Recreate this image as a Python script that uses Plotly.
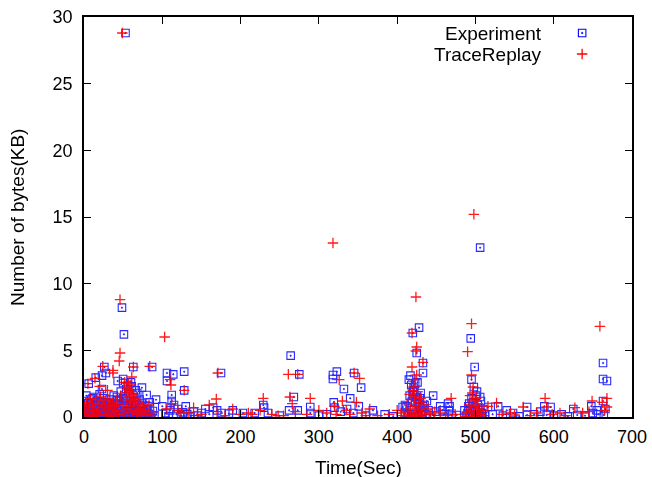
import plotly.graph_objects as go

# ---------------- data ----------------
# Experiment (blue squares): time in seconds, bytes in KB
exp_t_early = [53, 48.5, 51, 6, 15, 23, 26, 28, 50, 50, 63, 87, 23, 74, 80, 92, 43, 60, 56, 66,
               0, 0, 0, 0, 1, 2, 3, 4, 5, 6, 7, 8, 9, 10, 11, 12, 13, 14, 15, 16, 17, 18, 19, 20,
               21, 22, 23, 24, 25, 26, 27, 28, 29, 30, 31, 32, 33, 34, 35, 36, 37, 38, 39, 40,
               41, 42, 43, 44, 45, 46, 47, 48, 49, 50, 51, 52, 53, 54, 55, 56, 57, 58, 59, 60,
               61, 62, 63, 64, 65, 66, 67, 68, 69, 70, 71, 72, 73, 74, 75, 76, 77, 78, 80, 82,
               84, 86, 88, 90, 2, 9, 17, 27, 36, 44, 52, 58, 64, 70, 79, 85]
exp_v_early = [28.8, 8.2, 6.2, 2.5, 2.95, 3.1, 3.75, 3.3, 2.85, 2.55, 3.75, 3.75, 2.1, 2.2, 1.65, 1.3, 2.7, 2.6, 2.4, 2.0,
               0.2, 0.5, 0.9, 1.2, 0.1, 0.35, 0.7, 0.15, 1.0, 0.4, 0.05, 0.6, 1.3, 0.25, 0.8, 0.1, 1.5, 0.45, 0.9, 0.2, 1.2, 0.05, 0.65, 1.7,
               0.3, 1.0, 0.1, 0.5, 1.4, 0.2, 0.8, 0.05, 1.1, 0.4, 0.15, 0.7, 1.3, 0.25, 0.9, 0.05, 0.55, 1.6, 0.3, 1.0,
               0.1, 0.6, 1.25, 0.2, 0.85, 0.45, 1.9, 0.1, 0.7, 1.4, 0.3, 1.0, 0.05, 2.1, 0.5, 1.2, 0.2, 1.7, 0.8, 0.1,
               2.3, 0.6, 1.5, 0.3, 1.1, 0.05, 0.9, 1.8, 0.4, 0.2, 1.3, 0.7, 0.1, 1.0, 0.5, 0.2, 0.85, 0.05, 0.6, 0.3,
               1.1, 0.15, 0.45, 0.1, 0.0, 0.0, 0.0, 0.0, 0.0, 0.0, 0.0, 0.0, 0.0, 0.0, 0.0, 0.0]
exp_t_early2 = [1, 3, 5, 8, 11, 14, 18, 21, 24, 29, 32, 35, 38, 42, 45, 48, 54, 57, 61, 65, 68, 72,
                76, 81, 4, 12, 19, 26, 33, 40, 47, 55, 62, 69, 77, 83, 7, 16, 25, 34, 46, 59, 67, 73]
exp_v_early2 = [0.6, 1.6, 0.3, 1.0, 1.4, 0.7, 0.4, 1.1, 0.9, 0.6, 1.0, 0.5, 0.9, 1.5, 1.2, 0.4, 1.3, 0.9,
                1.0, 0.6, 1.2, 0.5, 0.4, 0.8, 0.0, 0.0, 0.0, 0.0, 0.0, 0.0, 0.0, 0.0, 0.0, 0.0, 0.0, 0.0,
                0.35, 0.55, 0.6, 0.45, 0.3, 0.5, 0.35, 0.4]
exp_t_mid = [106, 106, 114, 128, 128, 112, 112, 100, 104, 108, 110, 115, 118, 120, 124, 126, 130, 132,
             136, 140, 145, 150, 155, 160, 165, 170, 175, 176, 185, 190, 203, 218, 229, 230, 235, 264,
             268, 262, 273, 275, 289, 289, 318, 318, 323, 319, 320, 332, 340, 345, 354, 351, 344, 369,
             384, 407, 250, 300, 310, 328, 336, 360, 395]
exp_v_mid = [3.3, 2.7, 3.2, 3.4, 2.0, 1.65, 1.2, 0.8, 0.3, 0.05, 0.5, 0.9, 0.2, 0.6, 0.1, 0.35, 0.8, 0.2,
             0.05, 0.4, 0.1, 0.3, 0.6, 0.2, 0.7, 0.5, 3.3, 0.3, 0.25, 0.5, 0.3, 0.3, 0.9, 0.7, 0.3, 4.6,
             1.5, 0.5, 0.5, 3.2, 0.75, 0.3, 3.15, 2.85, 3.4, 1.1, 0.7, 2.1, 1.4, 3.3, 2.2, 0.8, 0.3, 0.5,
             0.2, 0.75, 0.1, 0.1, 0.2, 0.4, 0.6, 0.1, 0.05]
exp_t_420 = [428, 420, 425, 433, 433, 446, 415, 418, 422, 426, 430, 424, 419, 428, 435, 440, 410, 412,
             414, 416, 418, 420, 421, 423, 425, 427, 429, 431, 433, 436, 438, 442, 450, 455, 460, 465,
             466, 470, 420, 410, 458, 467, 476, 417, 421, 423, 426, 429, 432, 419, 422, 424]
exp_v_420 = [6.7, 6.3, 4.8, 4.05, 3.3, 1.6, 2.8, 2.4, 2.0, 2.6, 1.8, 1.5, 1.2, 1.0, 0.9, 0.5, 0.3, 0.8,
             0.1, 1.6, 0.5, 1.9, 0.2, 1.1, 0.6, 0.05, 1.4, 0.4, 0.8, 0.2, 1.2, 0.1, 0.4, 0.8, 0.2, 1.0,
             0.5, 0.1, 1.65, 0.9, 0.5, 0.8, 0.15, 3.1, 2.2, 2.5, 1.3, 0.7, 0.3, 0.0, 0.0, 0.0]
exp_t_500 = [494, 499, 495, 498, 506, 502, 506, 490, 492, 493, 495, 496, 497, 499, 500, 501, 503, 504,
             505, 507, 508, 510, 488, 491, 494, 497, 500, 503, 486, 509, 512]
exp_v_500 = [5.9, 3.75, 2.8, 2.25, 1.5, 1.9, 12.7, 0.3, 1.0, 0.6, 1.4, 0.2, 1.1, 0.7, 0.4, 1.6, 0.9, 0.1,
             0.5, 1.2, 0.3, 0.6, 0.1, 0.8, 0.0, 0.0, 0.0, 0.0, 0.5, 0.05, 0.2]
exp_t_late = [516, 529, 540, 566, 566, 588, 596, 591, 610, 625, 648, 650, 663, 663, 668, 663, 664, 657,
              522, 535, 548, 556, 575, 583, 600, 618, 630, 640, 655, 666]
exp_v_late = [0.75, 0.8, 0.5, 0.75, 0.15, 0.8, 0.75, 0.15, 0.2, 0.6, 0.8, 0.3, 4.05, 2.85, 2.7, 1.2, 0.15, 0.2,
              0.2, 0.1, 0.3, 0.05, 0.2, 0.4, 0.1, 0.05, 0.15, 0.1, 0.5, 0.6]

# TraceReplay (red pluses)
tr_t_early = [49, 46, 46, 45, 5, 14, 24, 37, 37, 61, 84, 63, 103, 20, 30, 52, 57, 59, 58, 60, 65,
              0, 1, 2, 3, 4, 6, 7, 8, 10, 11, 12, 13, 15, 16, 18, 19, 21, 22, 23, 25, 26, 27, 29, 31,
              32, 33, 34, 35, 36, 38, 39, 40, 41, 42, 43, 44, 47, 48, 50, 51, 53, 54, 55, 56, 57, 58,
              59, 61, 62, 63, 64, 66, 67, 68, 69, 71, 72, 73, 75, 76, 78, 81, 83, 86, 89, 55, 57, 59, 61]
tr_v_early = [28.8, 8.8, 4.8, 4.2, 2.5, 2.9, 3.8, 3.5, 3.3, 3.0, 3.8, 3.75, 6.0, 2.3, 2.0, 2.6, 2.2, 1.9, 1.6, 2.4, 1.4,
              0.3, 0.6, 0.1, 1.1, 0.4, 0.8, 0.2, 1.4, 0.5, 1.0, 0.05, 0.7, 1.3, 0.3, 0.9, 0.15, 1.5, 0.45, 1.0, 0.2, 0.75, 1.2, 0.1, 0.6,
              1.35, 0.3, 0.9, 0.05, 1.1, 0.4, 0.8, 0.15, 1.3, 0.5, 0.9, 0.2, 1.6, 0.4, 1.0, 0.25, 1.8, 0.6, 1.3, 0.1, 2.0, 0.8,
              1.5, 0.3, 1.7, 1.1, 0.5, 1.2, 0.2, 0.9, 0.4, 1.0, 0.6, 0.1, 0.8, 0.3, 0.5, 0.2, 0.9, 0.1, 0.4, 2.1, 2.5, 1.2, 1.9]
tr_t_mid = [110, 111, 128, 171, 169, 112, 120, 133, 140, 150, 160, 170, 180, 190, 200, 210, 229, 225,
            240, 255, 261, 263, 266, 273, 270, 289, 285, 300, 318, 326, 320, 322, 330, 335, 345, 352,
            348, 355, 365, 375, 390, 400, 106, 124, 145, 215, 248, 310, 340, 360]
tr_v_mid = [2.8, 2.4, 2.0, 3.3, 1.35, 1.0, 0.5, 0.3, 0.7, 0.2, 0.9, 0.4, 0.1, 0.6, 0.2, 0.3, 1.4, 0.5,
            0.2, 0.1, 3.2, 1.5, 1.0, 3.2, 0.4, 1.4, 0.2, 0.5, 13.05, 2.8, 0.8, 0.2, 1.2, 0.5, 3.3, 2.9,
            1.1, 0.3, 0.6, 0.1, 0.2, 0.5, 0.6, 0.3, 0.1, 0.2, 0.1, 0.3, 0.2, 0.1]
tr_t_420 = [424, 419, 424, 425, 433, 419, 425, 423, 421, 411, 413, 415, 416, 417, 418, 420, 421, 422,
            423, 424, 426, 427, 428, 429, 430, 431, 432, 434, 436, 439, 443, 448, 469, 455, 462, 474,
            405, 408, 418, 422, 427]
tr_v_420 = [9.0, 6.3, 4.95, 5.25, 4.1, 3.75, 3.15, 2.8, 2.25, 0.4, 1.0, 0.2, 1.7, 0.6, 1.3, 2.0, 0.1, 1.5,
            0.8, 0.3, 1.9, 0.5, 1.1, 0.2, 1.4, 0.7, 0.1, 0.9, 0.3, 0.6, 0.2, 0.4, 1.4, 0.3, 0.1, 0.2,
            0.3, 0.1, 0.0, 0.0, 0.0]
tr_t_500 = [498, 495, 490, 495, 497, 489, 492, 493, 494, 496, 498, 499, 500, 501, 502, 503, 504, 506,
            508, 511, 487, 493, 497, 501]
tr_v_500 = [15.2, 7.0, 4.9, 3.15, 2.25, 0.3, 0.9, 1.6, 0.5, 1.8, 1.2, 0.2, 0.8, 1.4, 0.4, 1.0, 0.6, 0.2,
            0.5, 0.1, 0.05, 0.0, 0.0, 0.0]
tr_t_late = [516, 527, 550, 561, 578, 589, 591, 608, 627, 637, 649, 659, 668, 668, 534, 545, 570, 598,
             615, 645, 662, 665]
tr_v_late = [0.8, 1.05, 0.15, 0.75, 0.3, 1.4, 0.75, 0.3, 0.7, 0.3, 1.2, 6.8, 1.4, 0.75, 0.2, 0.3, 0.1, 0.2,
             0.1, 0.4, 1.1, 0.5]

exp_t = exp_t_early + exp_t_early2 + exp_t_mid + exp_t_420 + exp_t_500 + exp_t_late
exp_v = exp_v_early + exp_v_early2 + exp_v_mid + exp_v_420 + exp_v_500 + exp_v_late
tr_t = tr_t_early + tr_t_mid + tr_t_420 + tr_t_500 + tr_t_late
tr_v = tr_v_early + tr_v_mid + tr_v_420 + tr_v_500 + tr_v_late

series_names = ["Experiment", "TraceReplay"]
x_ticks = [0, 100, 200, 300, 400, 500, 600, 700]
y_ticks = [0, 5, 10, 15, 20, 25, 30]
x_title = "Time(Sec)"
y_title = "Number of bytes(KB)"

# ---------------- styles ----------------
FONT = "Liberation Sans, Arial, Helvetica, sans-serif"
BLUE = "#0000ff"
RED = "#ff0000"
exp_marker = dict(symbol="square-open-dot", size=7.5, color=BLUE, line=dict(width=1.1, color=BLUE))
tr_marker = dict(symbol="cross-thin-open", size=7.5, color=RED, line=dict(width=1.3, color=RED))

fig = go.Figure()
fig.add_trace(go.Scatter(x=exp_t, y=exp_v, mode="markers", name=series_names[0],
                         marker=exp_marker, opacity=0.85, showlegend=False))
fig.add_trace(go.Scatter(x=tr_t, y=tr_v, mode="markers", name=series_names[1],
                         marker=tr_marker, opacity=0.9, showlegend=False))

# gnuplot-style key (text left of sample) on an overlay axis in [0,1]
key_x = [0.909]
key_y = [0.96, 0.9075]
fig.add_trace(go.Scatter(x=key_x, y=[key_y[0]], mode="markers", marker=exp_marker,
                         xaxis="x2", yaxis="y2", showlegend=False, hoverinfo="skip"))
fig.add_trace(go.Scatter(x=key_x, y=[key_y[1]], mode="markers", marker=tr_marker,
                         xaxis="x2", yaxis="y2", showlegend=False, hoverinfo="skip"))
for name, yy in zip(series_names, key_y):
    fig.add_annotation(x=0.839, y=yy, xref="paper", yref="paper", text=name,
                       showarrow=False, xanchor="right", yanchor="middle",
                       font=dict(family=FONT, size=19, color="black"))

# axis titles as annotations (exact placement)
fig.add_annotation(x=0.5, y=-0.125, xref="paper", yref="paper", text=x_title,
                   showarrow=False, xanchor="center", yanchor="middle",
                   font=dict(family=FONT, size=19, color="black"))
fig.add_annotation(x=-0.1223, y=0.5, xref="paper", yref="paper", text=y_title,
                   showarrow=False, xanchor="center", yanchor="middle", textangle=-90,
                   font=dict(family=FONT, size=19, color="black"))

axis_common = dict(showgrid=False, zeroline=False, showline=True, linecolor="black",
                   linewidth=1.5, mirror="ticks", ticks="inside", ticklen=7, tickcolor="black",
                   tickwidth=1, automargin=False,
                   tickfont=dict(family=FONT, size=18, color="black"))

fig.update_layout(
    width=652, height=477,
    margin=dict(l=84, r=20, t=17, b=60),
    paper_bgcolor="white", plot_bgcolor="white",
    showlegend=False,
    xaxis=dict(range=[0, 700], tickvals=x_ticks, ticklabelstandoff=3, **axis_common),
    yaxis=dict(range=[0, 30], tickvals=y_ticks, ticklabelstandoff=6, **axis_common),
    xaxis2=dict(overlaying="x", range=[0, 1], visible=False),
    yaxis2=dict(overlaying="y", range=[0, 1], visible=False),
)

fig.write_html("out.html", config={"displayModeBar": False},
               post_script="document.body.style.margin='0px';document.body.style.overflow='hidden';")
